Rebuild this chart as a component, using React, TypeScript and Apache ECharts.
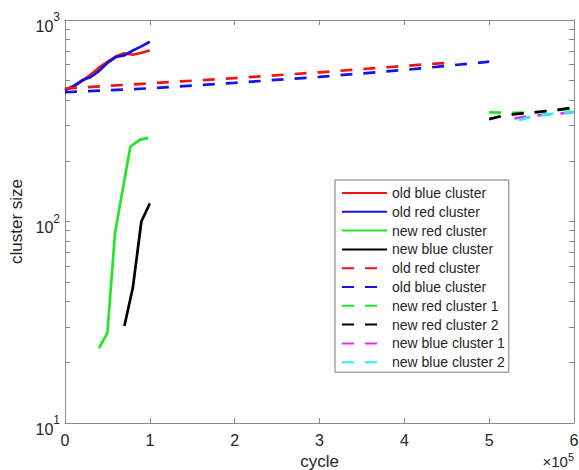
import React, { useEffect, useRef } from 'react';
import * as echarts from 'echarts';

// ---------- data (x in cycles, y = cluster size) ----------
const seriesKeys = ['s1', 's2', 's3', 's4', 's5', 's6', 's7', 's8', 's9', 's10'];
const legendLabels = [
  'old blue cluster',
  'old red cluster',
  'new red cluster',
  'new blue cluster',
  'old red cluster',
  'old blue cluster',
  'new red cluster 1',
  'new red cluster 2',
  'new blue cluster 1',
  'new blue cluster 2',
];

const oldBlueSolidX = [0, 10000, 20000, 30000, 40000, 50000, 60000, 70000, 80000, 90000, 100000];
const oldBlueSolidY = [449, 466, 497, 535, 580, 620, 660, 684, 672, 688, 706];

const oldRedSolidX = [0, 10000, 20000, 30000, 40000, 50000, 60000, 70000, 80000, 90000, 100000];
const oldRedSolidY = [449, 470, 502, 520, 558, 612, 655, 668, 706, 740, 780];

const newRedSolidX = [40000, 50000, 59000, 77000, 88000, 98000];
const newRedSolidY = [23.5, 28, 88, 235, 254, 260];

const newBlueSolidX = [70000, 80000, 90000, 100000];
const newBlueSolidY = [30.3, 47, 100, 123];

const oldRedDashX = [0, 100000, 200000, 300000, 400000, 460000];
const oldRedDashY = [457, 485, 515, 550, 592, 617];

const oldBlueDashX = [0, 100000, 200000, 300000, 400000, 500000];
const oldBlueDashY = [438, 458, 488, 522, 565, 621];

const newRed1DashX = [500000, 530000, 560000, 590000, 600000];
const newRed1DashY = [348, 346, 350, 360, 364];

const newRed2DashX = [500000, 520000, 550000, 580000, 600000];
const newRed2DashY = [322, 338, 347, 358, 368];

const newBlue1DashX = [530000, 540000, 550000, 600000];
const newBlue1DashY = [325, 330, 334, 348];

const newBlue2DashX = [535000, 550000, 580000, 600000];
const newBlue2DashY = [318, 332, 345, 350];

// tick positions on the log axis (major decades and minor 2..9)
const yTickValues = [
  10, 20, 30, 40, 50, 60, 70, 80, 90,
  100, 200, 300, 400, 500, 600, 700, 800, 900, 1000,
];

// ---------- styles ----------
const seriesColors = [
  '#f01414', '#1414e6', '#22e622', '#000000',
  '#f01414', '#1414e6', '#22e622', '#000000', '#f028f0', '#28f0f0',
];
const seriesDashed = [false, false, false, false, true, true, true, true, true, true];
const seriesXs = [
  oldBlueSolidX, oldRedSolidX, newRedSolidX, newBlueSolidX,
  oldRedDashX, oldBlueDashX, newRed1DashX, newRed2DashX, newBlue1DashX, newBlue2DashX,
];
const seriesYs = [
  oldBlueSolidY, oldRedSolidY, newRedSolidY, newBlueSolidY,
  oldRedDashY, oldBlueDashY, newRed1DashY, newRed2DashY, newBlue1DashY, newBlue2DashY,
];

const FONT = '"Liberation Sans", Arial, Helvetica, sans-serif';
const TEXT = '#262626';
const AXIS = '#8a8a8a';

export default function App() {
  const ref = useRef<HTMLDivElement>(null);

  useEffect(() => {
    if (!ref.current) return;
    const chart = echarts.init(ref.current, undefined, { renderer: 'svg' });

    const labelMap: Record<string, string> = {};
    seriesKeys.forEach((k, i) => (labelMap[k] = legendLabels[i]));

    const series = seriesKeys.map((k, i) => ({
      name: k,
      type: 'line',
      xAxisIndex: 0,
      yAxisIndex: 0,
      symbol: 'none',
      showSymbol: false,
      smooth: false,
      data: seriesXs[i].map((x, j) => [x, seriesYs[i][j]]),
      lineStyle: {
        color: seriesColors[i],
        width: 2.7,
        type: seriesDashed[i] ? [12, 11] : 'solid',
        cap: 'butt',
      },
      itemStyle: { color: seriesColors[i] },
      emphasis: { disabled: true },
    }));

    const axisLine = { show: true, onZero: false, lineStyle: { color: AXIS, width: 1 } };
    const tickStyle = { color: AXIS, width: 1 };
    const logTickPositions = yTickValues.map((v) => Math.log10(v));

    const yRich = {
      b: { fontSize: 16, lineHeight: 23, verticalAlign: 'bottom', fontFamily: FONT, color: TEXT },
      s: { fontSize: 12, lineHeight: 11, verticalAlign: 'top', fontFamily: FONT, color: TEXT },
    };

    const tickOnlyAxis = (position: 'left' | 'right') => ({
      type: 'value',
      position,
      min: 1,
      max: 3,
      axisLine: { show: false, onZero: false },
      axisTick: { show: true, inside: true, length: 5, lineStyle: tickStyle, customValues: logTickPositions },
      axisLabel: { show: false },
      splitLine: { show: false },
      silent: true,
    });

    chart.setOption({
      animation: false,
      backgroundColor: '#ffffff',
      grid: { left: 65, right: 5, top: 20, bottom: 47, outerBoundsMode: 'none', containLabel: false },
      xAxis: [
        {
          type: 'value',
          position: 'bottom',
          min: 0,
          max: 600000,
          interval: 100000,
          axisLine,
          axisTick: { show: true, inside: true, length: 5, lineStyle: tickStyle },
          axisLabel: {
            show: true,
            margin: 9,
            fontSize: 16,
            fontFamily: FONT,
            color: TEXT,
            formatter: (v: number) => String(Math.round(v / 100000)),
          },
          splitLine: { show: false },
          name: 'cycle',
          nameLocation: 'middle',
          nameGap: 29,
          nameTextStyle: { fontSize: 17, fontFamily: FONT, color: TEXT },
        },
        {
          type: 'value',
          position: 'top',
          min: 0,
          max: 600000,
          interval: 100000,
          axisLine,
          axisTick: { show: true, inside: true, length: 5, lineStyle: tickStyle },
          axisLabel: { show: false },
          splitLine: { show: false },
        },
      ],
      yAxis: [
        {
          type: 'log',
          logBase: 10,
          position: 'left',
          min: 10,
          max: 1000,
          axisLine,
          axisTick: { show: false },
          minorTick: { show: false },
          axisLabel: {
            show: true,
            margin: 5,
            padding: [5, 0, 0, 0],
            formatter: (v: number) => `{b|10}{s|${Math.round(Math.log10(v))}}`,
            rich: yRich,
          },
          splitLine: { show: false },
          name: 'cluster size',
          nameLocation: 'middle',
          nameGap: 38,
          nameTextStyle: { fontSize: 17, fontFamily: FONT, color: TEXT },
        },
        {
          type: 'log',
          logBase: 10,
          position: 'right',
          min: 10,
          max: 1000,
          axisLine,
          axisTick: { show: false },
          minorTick: { show: false },
          axisLabel: { show: false },
          splitLine: { show: false },
        },
        tickOnlyAxis('left'),
        tickOnlyAxis('right'),
      ],
      legend: {
        show: true,
        orient: 'vertical',
        left: 335,
        top: 180,
        data: seriesKeys,
        formatter: (name: string) => labelMap[name] || name,
        itemWidth: 45,
        itemHeight: 14,
        itemGap: 4.8,
        padding: [6, 4, 3, 6],
        borderColor: '#777777',
        borderWidth: 1,
        backgroundColor: '#ffffff',
        selectedMode: false,
        itemStyle: { opacity: 0 },
        textStyle: { fontSize: 14, fontFamily: FONT, color: TEXT },
      },
      graphic: [
        {
          type: 'text',
          x: 574,
          y: 451,
          style: {
            text: '{a|×10}{b|5}',
            align: 'right',
            verticalAlign: 'top',
            rich: {
              a: { fontSize: 15, lineHeight: 18, verticalAlign: 'bottom', fontFamily: FONT, fill: TEXT },
              b: { fontSize: 11, lineHeight: 10, verticalAlign: 'top', fontFamily: FONT, fill: TEXT },
            },
          },
        },
      ],
      series,
    });

    return () => chart.dispose();
  }, []);

  return (
    <div
      ref={ref}
      style={{ position: 'absolute', left: 0, top: 0, width: 579, height: 470 }}
    />
  );
}
